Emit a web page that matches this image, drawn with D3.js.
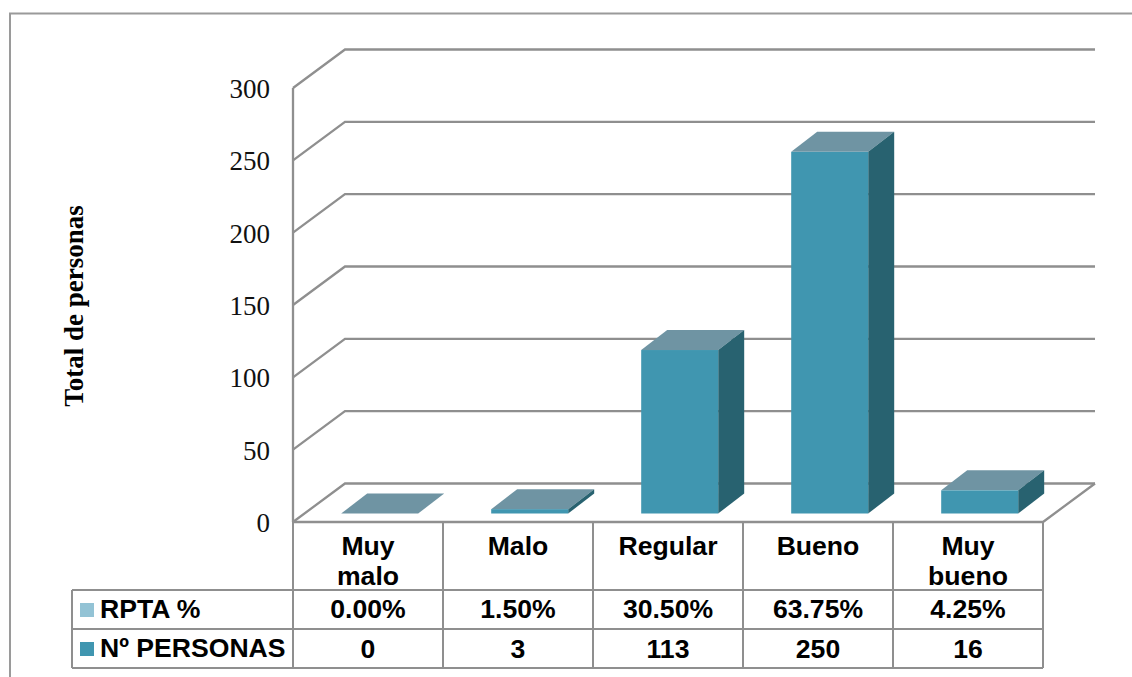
<!DOCTYPE html>
<html>
<head>
<meta charset="utf-8">
<script src="https://cdn.jsdelivr.net/npm/d3@7"></script>
<style>
  html, body { margin: 0; padding: 0; background: #fff; }
  svg { display: block; }
  .serif { font-family: "Liberation Serif", serif; }
  .sans { font-family: "Liberation Sans", Arial, sans-serif; font-weight: 700; }
</style>
</head>
<body>
<svg id="chart" width="1132" height="677"></svg>
<script>
// Survey responses per rating category
const categories = [["Muy", "malo"], ["Malo"], ["Regular"], ["Bueno"], ["Muy", "bueno"]];
const personas = [0, 3, 113, 250, 16];
const rptaPct = ["0.00%", "1.50%", "30.50%", "63.75%", "4.25%"];
const yTicks = [0, 50, 100, 150, 200, 250, 300];
const seriesNames = ["RPTA %", "Nº PERSONAS"];
const yTitle = "Total de personas";

const svg = d3.select("#chart");
const gridColor = "#8f8f8f";

// Front plane of the pseudo-3D box
const x = d3.scaleBand().domain(d3.range(categories.length)).range([293, 1043]);
const y = d3.scaleLinear().domain([0, 300]).range([522, 88]);

// Offsets for wall depth and for the bar blocks standing on the floor
const wall = { dx: 52, dy: -38.5 };
const barInset = { dx: 11.7, dy: -8.5 };
const barDepth = { dx: 26, dy: -20 };
const barWidth = 77;

// Outer frame (open on the right and the bottom)
svg.append("path")
  .attr("d", "M10,677V13.5H1132")
  .attr("fill", "none").attr("stroke", "#9a9a9a").attr("stroke-width", 2);

// Back wall gridlines and their side-wall diagonals
const grid = svg.append("g").attr("fill", "none").attr("stroke", gridColor).attr("stroke-width", 2.3);
yTicks.forEach(t => {
  grid.append("path")
    .attr("d", `M${x.range()[0]},${y(t)}l${wall.dx},${wall.dy}H${x.range()[1] + wall.dx}`);
});
grid.append("path").attr("d", `M${x.range()[0]},${y(300)}V${y(0)}`);
grid.append("path").attr("d", `M${x.range()[0]},${y(0)}H${x.range()[1]}l${wall.dx},${wall.dy}`);

// Value axis labels
svg.append("g").selectAll("text").data(yTicks).join("text")
  .attr("class", "serif")
  .attr("x", 270).attr("y", d => y(d) + 10)
  .attr("text-anchor", "end").attr("font-size", 27).attr("fill", "#111")
  .text(d => d);

// Axis title
svg.append("text").attr("class", "serif")
  .attr("transform", "translate(83,306) rotate(-90)")
  .attr("text-anchor", "middle").attr("font-size", 27).attr("font-weight", 700)
  .text(yTitle);

// Bars: front face, top and side drawn as polygons from the same scales
const bars = svg.append("g").selectAll("g").data(personas).join("g");
const barX = (d, i) => x(i) + (x.bandwidth() - barWidth) / 2 + barInset.dx;
const baseY = y(0) + barInset.dy;
const topY = d => y(d) + barInset.dy;

bars.append("polygon").attr("fill", "#6f94a3")
  .attr("points", (d, i) => {
    const l = barX(d, i), t = topY(d);
    return [[l, t], [l + barWidth, t], [l + barWidth + barDepth.dx, t + barDepth.dy], [l + barDepth.dx, t + barDepth.dy]].join(" ");
  });
bars.append("polygon").attr("fill", "#286270")
  .attr("points", (d, i) => {
    const r = barX(d, i) + barWidth, t = topY(d);
    return [[r, t], [r + barDepth.dx, t + barDepth.dy], [r + barDepth.dx, baseY + barDepth.dy], [r, baseY]].join(" ");
  });
bars.append("rect").attr("fill", "#4096b0")
  .attr("x", barX).attr("width", barWidth)
  .attr("y", d => topY(d)).attr("height", d => baseY - topY(d));

// Data table below the plot
const rows = [590, 629, 668];
const legendLeft = 72;
const table = svg.append("g").attr("fill", "none").attr("stroke", gridColor).attr("stroke-width", 2);
x.domain().forEach(i => {
  table.append("path").attr("d", `M${x(i)},${y(0)}V${rows[2]}`);
});
table.append("path").attr("d", `M${x.range()[1]},${y(0)}V${rows[2]}`);
rows.forEach(r => table.append("path").attr("d", `M${legendLeft},${r}H${x.range()[1]}`));
table.append("path").attr("d", `M${legendLeft},${rows[0]}V${rows[2]}`);

const cx = i => x(i) + x.bandwidth() / 2;
const labels = svg.append("g").attr("class", "sans")
  .attr("font-size", 26.6).attr("text-anchor", "middle").attr("fill", "#000");

categories.forEach((lines, i) => {
  lines.forEach((line, j) => {
    labels.append("text").attr("x", cx(i)).attr("y", 555 + j * 30).text(line);
  });
  labels.append("text").attr("x", cx(i)).attr("y", 618).text(rptaPct[i]);
  labels.append("text").attr("x", cx(i)).attr("y", 658).text(personas[i]);
});

// Series keys in the table's first column
const swatches = ["#93c3d5", "#4096b0"];
seriesNames.forEach((name, i) => {
  svg.append("rect").attr("x", 80).attr("y", rows[i] + 13).attr("width", 14).attr("height", 14).attr("fill", swatches[i]);
  svg.append("text").attr("class", "sans").attr("x", 100).attr("y", rows[i] + 28)
    .attr("font-size", 26.6).attr("fill", "#000").text(name);
});
</script>
</body>
</html>
